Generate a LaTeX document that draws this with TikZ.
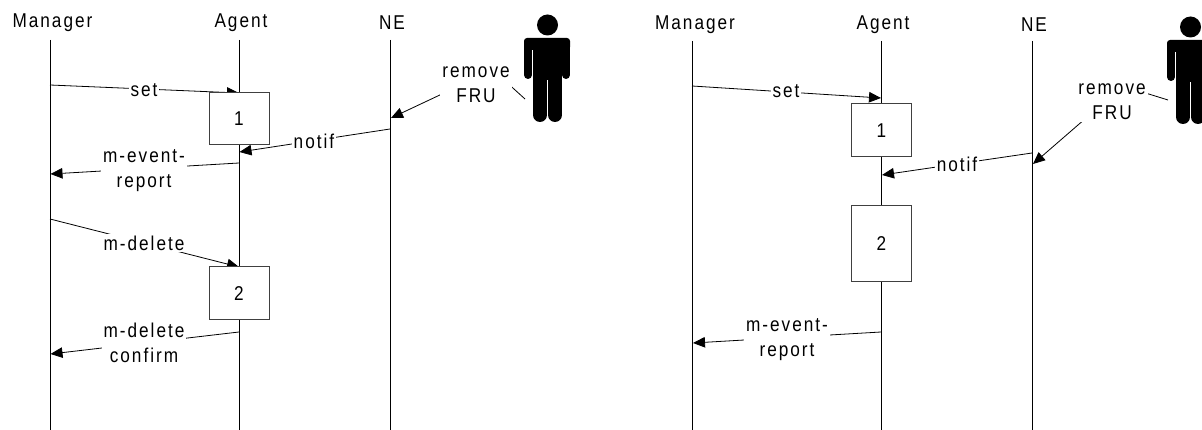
\documentclass[tikz,border=0pt]{standalone}
\usepackage{fontspec}
\setmainfont[LetterSpace=10,FakeStretch=0.86]{Liberation Sans}
\usetikzlibrary{arrows.meta}
\tikzset{
  lifeline/.style={draw=black,line width=0.9pt},
  msg/.style={draw=black,line width=0.8pt},
  arr/.style={msg,-{Triangle[length=12pt,width=10.5pt]}},
  boxn/.style={draw=black!75,fill=white,line width=1pt,minimum width=60pt,inner sep=0pt,font=\fontsize{20}{20}\selectfont},
  lbl/.style={fill=white,inner sep=2pt,align=center,font=\fontsize{20}{25}\selectfont},
  head/.style={inner sep=0pt,font=\fontsize{20}{20}\selectfont},
}
\newcommand{\personfig}[2]{%
  \begin{scope}[shift={(#1,#2)}]
    \fill (547.5,25) circle (10.5);
    \fill[rounded corners=3pt] (524,38) rectangle (570,50);
    \draw[line width=8pt,line cap=round] (528,45) -- (528,75);
    \draw[line width=8pt,line cap=round] (566,45) -- (566,75);
    \fill (533,38) rectangle (562,80);
    \draw[line width=14pt,line cap=round] (540,70) -- (540,115);
    \draw[line width=14pt,line cap=round] (555,70) -- (555,115);
  \end{scope}}
\begin{document}
\begin{tikzpicture}[x=1pt,y=-1pt]
\useasboundingbox (0,0) rectangle (1202,430);
\begin{scope}
\clip (0,0) rectangle (1202,430);
\personfig{0}{0}
\personfig{643}{2}
\end{scope}

% ---- left diagram
\node[head] (lm) at (52.5,23) {Manager};
\node[head] (la) at (241,23) {Agent};
\node[head] (ln) at (392,23) {NE};
\coordinate (lmt) at (50,40); \coordinate (lmb) at (50,430);
\coordinate (lat) at (239,40); \coordinate (lab) at (239,430);
\coordinate (lnt) at (390.5,40); \coordinate (lnb) at (390.5,430);
\draw[lifeline] (lmt) -- (lmb);
\draw[lifeline] (lat) -- (lab);
\draw[lifeline] (lnt) -- (lnb);

\coordinate (a1) at (50,85);   \coordinate (a2) at (239,93);
\draw[arr] (a1) -- (a2);
\coordinate (b1) at (390,129); \coordinate (b2) at (239.5,152);
\draw[arr] (b1) -- (b2);
\coordinate (c1) at (239,163); \coordinate (c2) at (50.5,174);
\draw[arr] (c1) -- (c2);
\coordinate (d1) at (50,219);  \coordinate (d2) at (239,267);
\draw[arr] (d1) -- (d2);
\coordinate (e1) at (239,332); \coordinate (e2) at (50.5,354);
\draw[arr] (e1) -- (e2);
\coordinate (f1) at (525,99);  \coordinate (f2) at (493,70); \coordinate (f3) at (391,118);
\draw[arr] (f1) -- (f2) -- (f3);

\node[boxn,minimum height=52pt] (lb1) at (239,119) {1\hspace{3pt}};
\node[boxn,minimum height=53pt] (lb2) at (239,293.5) {2\hspace{3pt}};
\node[lbl] (lset) at (144,90) {set};
\node[lbl] (lnotif) at (314,141) {notif};
\node[lbl] (lev) at (144,171) {m-event-\\report};
\node[lbl] (ldel) at (144,243) {m-delete};
\node[lbl] (ldc) at (144,343) {m-delete\\confirm};
\node[lbl] (lrem) at (476,84.5) {remove\\FRU};

% ---- right diagram
\node[head] (rm) at (695,25) {Manager};
\node[head] (ra) at (883,25) {Agent};
\node[head] (rn) at (1034,25) {NE};
\coordinate (rmt) at (692.5,41); \coordinate (rmb) at (692.5,430);
\coordinate (rat) at (881.5,41); \coordinate (rab) at (881.5,430);
\coordinate (rnt) at (1032.5,41); \coordinate (rnb) at (1032.5,430);
\draw[lifeline] (rmt) -- (rmb);
\draw[lifeline] (rat) -- (rab);
\draw[lifeline] (rnt) -- (rnb);

\coordinate (g1) at (692,86);  \coordinate (g2) at (881,98);
\draw[arr] (g1) -- (g2);
\coordinate (h1) at (1032,153); \coordinate (h2) at (882,175);
\draw[arr] (h1) -- (h2);
\coordinate (i1) at (881,332); \coordinate (i2) at (693,343);
\draw[arr] (i1) -- (i2);
\coordinate (j1) at (1168,100); \coordinate (j2) at (1123,86); \coordinate (j3) at (1033,164);
\draw[arr] (j1) -- (j2) -- (j3);

\node[boxn,minimum height=53pt] (rb1) at (881.5,130.5) {1\hspace{3pt}};
\node[boxn,minimum height=76pt] (rb2) at (881.5,244) {2\hspace{3pt}};
\node[lbl] (rset) at (786,91.5) {set};
\node[lbl] (rnotif) at (957,164) {notif};
\node[lbl] (rev) at (787,340) {m-event-\\report};
\node[lbl] (rrem) at (1112,102) {remove\\FRU};
\end{tikzpicture}
\end{document}
